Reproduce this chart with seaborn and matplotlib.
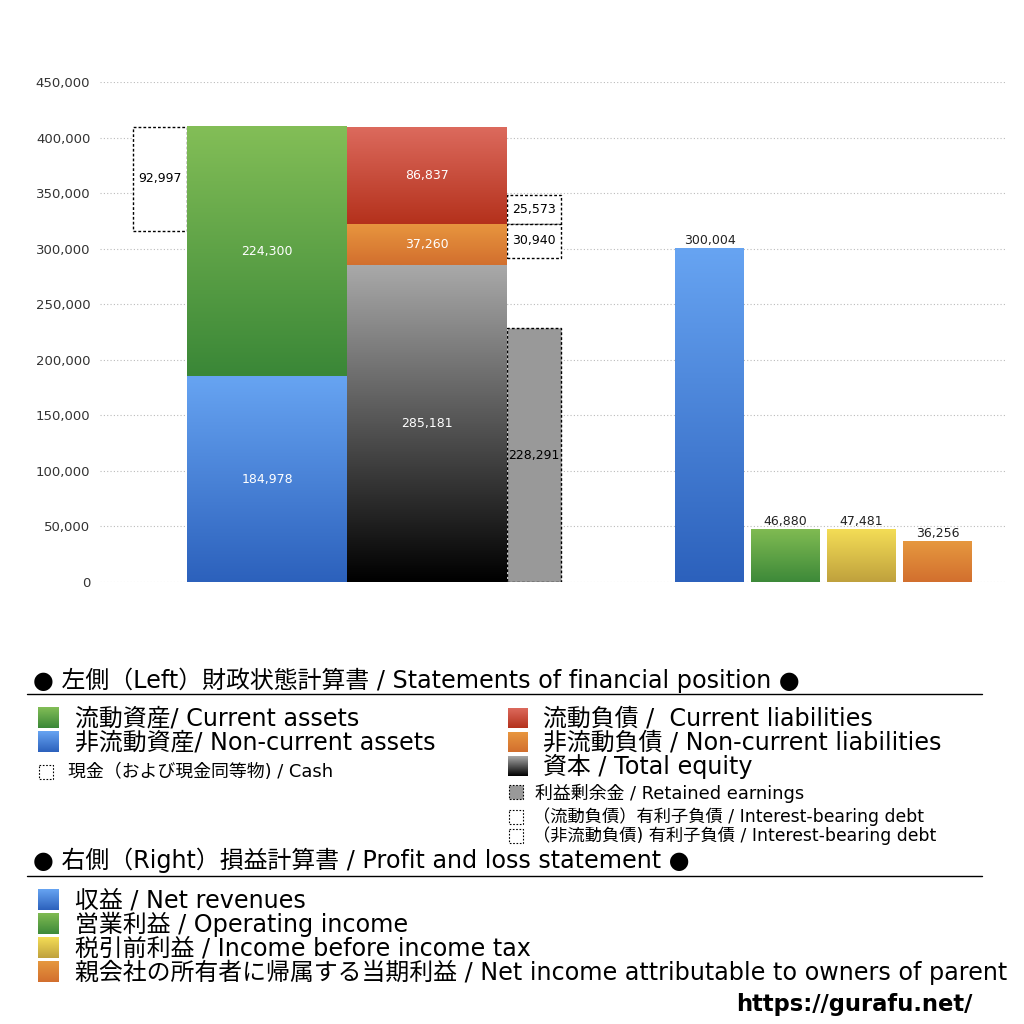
import numpy as np
import seaborn as sns
import matplotlib
matplotlib.use("Agg")
import matplotlib.pyplot as plt
from matplotlib.colors import LinearSegmentedColormap
from matplotlib.patches import Rectangle

# 左側: 財政状態計算書
cash = 92997
asset_names = ["非流動資産", "流動資産"]
asset_values = [184978, 224300]
liab_names = ["資本", "非流動負債", "流動負債"]
liab_values = [285181, 37260, 86837]
debt_values = [30940, 25573]   # 非流動負債 / 流動負債 の有利子負債
retained = 228291

# 右側: 損益計算書
pl_names = ["収益", "営業利益", "税引前利益", "当期利益"]
pl_values = [300004, 46880, 47481, 36256]

yticks = list(range(0, 450001, 50000))

# legend texts
head_left = "● 左側（Left）財政状態計算書 / Statements of financial position ●"
head_right = "● 右側（Right）損益計算書 / Profit and loss statement ●"
leg_assets = ["流動資産/ Current assets", "非流動資産/ Non-current assets"]
leg_cash = "現金（および現金同等物) / Cash"
leg_liab = ["流動負債 /  Current liabilities", "非流動負債 / Non-current liabilities", "資本 / Total equity"]
leg_retained = "利益剰余金 / Retained earnings"
leg_debt = ["（流動負債）有利子負債 / Interest-bearing debt", "（非流動負債) 有利子負債 / Interest-bearing debt"]
leg_pl = ["収益 / Net revenues", "営業利益 / Operating income", "税引前利益 / Income before income tax",
          "親会社の所有者に帰属する当期利益 / Net income attributable to owners of parent"]

grad = {
    "流動資産": ("#83be57", "#3a8737"),
    "非流動資産": ("#67a4f2", "#2c61bc"),
    "流動負債": ("#dc6a5d", "#b4311c"),
    "非流動負債": ("#e8963f", "#d26f2e"),
    "資本": ("#a9a9a9", "#000000"),
    "収益": ("#67a4f2", "#2c61bc"),
    "営業利益": ("#80bb52", "#3d8939"),
    "税引前利益": ("#f4dd56", "#bfa13d"),
    "当期利益": ("#e6983f", "#d26f2e"),
}

sns.set_style("white")
plt.rcParams["font.family"] = ["DejaVu Sans", "Noto Sans CJK JP"]

fig = plt.figure(figsize=(10.24, 10.24), dpi=100)
ax = fig.add_axes([100 / 1024, 442 / 1024, 905 / 1024, 500 / 1024])

ramp = np.linspace(0, 1, 256).reshape(-1, 1)


def paint(a, x0, x1, y0, y1, top, bottom, z=3):
    cmap = LinearSegmentedColormap.from_list("g", [bottom, top])
    a.imshow(ramp, extent=[x0, x1, y0, y1], origin="lower", aspect="auto",
             cmap=cmap, zorder=z, interpolation="bilinear")


def bar(x, v, bottom, width, **kw):
    n = len(ax.patches)
    sns.barplot(x=[x], y=[v], native_scale=True, orient="x", width=width,
                bottom=bottom, errorbar=None, ax=ax, **kw)
    return ax.patches[n]


def fill_grad(p, name):
    paint(ax, p.get_x(), p.get_x() + p.get_width(), p.get_y(),
          p.get_y() + p.get_height(), *grad[name])


def label(p, v, color):
    ax.text(p.get_x() + p.get_width() / 2, p.get_y() + p.get_height() / 2,
            f"{v:,}", ha="center", va="center", color=color, fontsize=9, zorder=6)


W_BIG, W_SMALL, W_PL = 160, 54, 69
X_CASH, X_ASSET, X_LIAB, X_SIDE = 160, 267, 427, 534
dotted = dict(color="white", edgecolor="black", linewidth=1, linestyle=(0, (2, 1.5)))

# assets
for name, v, b in zip(asset_names, asset_values, np.cumsum([0] + asset_values[:-1])):
    p = bar(X_ASSET, v, b, W_BIG, color=grad[name][0], linewidth=0)
    fill_grad(p, name)
    label(p, v, "white")

# liabilities + equity
for name, v, b in zip(liab_names, liab_values, np.cumsum([0] + liab_values[:-1])):
    p = bar(X_LIAB, v, b, W_BIG, color=grad[name][0], linewidth=0)
    fill_grad(p, name)
    label(p, v, "white")

# cash
p = bar(X_CASH, cash, sum(asset_values) - cash, W_SMALL, **dotted)
label(p, cash, "black")

# interest-bearing debt around the 流動負債 boundary
boundary = liab_values[0] + liab_values[1]
p = bar(X_SIDE, debt_values[1], boundary, W_SMALL, **dotted)
label(p, debt_values[1], "black")
p = bar(X_SIDE, debt_values[0], boundary - debt_values[0], W_SMALL, **dotted)
label(p, debt_values[0], "black")

# retained earnings
p = bar(X_SIDE, retained, 0, W_SMALL, color="#999999", edgecolor="black",
        linewidth=1, linestyle=(0, (2, 1.5)))
label(p, retained, "black")

# P&L
pl_x = [709.5 + 76 * i for i in range(len(pl_values))]
for name, x, v in zip(pl_names, pl_x, pl_values):
    p = bar(x, v, 0, W_PL, color=grad[name][0], linewidth=0)
    fill_grad(p, name)
    ax.text(x, v + 1500, f"{v:,}", ha="center", va="bottom", fontsize=9, color="#222222")

ax.set_xlim(100, 1005)
ax.set_ylim(0, 450000)
ax.set_yticks(yticks)
ax.set_yticklabels([f"{t:,}" for t in yticks], fontsize=9.5, color="#333333")
ax.set_xticks([])
ax.tick_params(axis="y", length=0, pad=7)
ax.grid(axis="y", linestyle=(0, (1, 2)), color="#bbbbbb", linewidth=0.8)
ax.set_axisbelow(True)
ax.set_xlabel("")
ax.set_ylabel("")
sns.despine(ax=ax, left=True, bottom=True)

# legend drawn on an overlay in pixel coordinates
lg = fig.add_axes([0, 0, 1, 1], zorder=5)
BIG, SMALL = 17.2, 12.9


def marker(x, y, size, name=None, face=None, dots=False):
    if name is not None:
        paint(lg, x, x + size, y + size / 2, y - size / 2, *grad[name])
    else:
        lg.add_patch(Rectangle((x, y - size / 2), size, size, facecolor=face,
                               edgecolor="black" if dots else "none",
                               linewidth=0.8, linestyle=(0, (1.5, 1.5))))


def say(x, y, text, size):
    lg.text(x, y, text, fontsize=size, va="center", color="black")


say(33, 680, head_left, BIG)
lg.plot([27, 982], [694, 694], color="black", linewidth=1)
for name, text, y in zip(["流動資産", "非流動資産"], leg_assets, [718, 742]):
    marker(38, y, 21, name)
    say(75, y, text, BIG)
marker(39, 772, 14, face="white", dots=True)
say(68, 772, leg_cash, SMALL)

for name, text, y in zip(["流動負債", "非流動負債", "資本"], leg_liab, [718, 742, 766]):
    marker(508, y, 20, name)
    say(543, y, text, BIG)
marker(509, 792, 14, face="#999999", dots=True)
say(535, 793, leg_retained, SMALL)
for text, y in zip(leg_debt, [817, 836]):
    marker(509, y, 14, face="white", dots=True)
    say(533, y, text, 12.4)

say(33, 860, head_right, BIG)
lg.plot([27, 982], [876, 876], color="black", linewidth=1)
for name, text, y in zip(pl_names, leg_pl, [900, 924, 948, 972]):
    marker(38, y, 21, name)
    say(75, y, text, BIG)

lg.text(972, 1004, "https://gurafu.net/", fontsize=16.3, fontweight="bold",
        ha="right", va="center", color="black")

lg.set_xlim(0, 1024)
lg.set_ylim(1024, 0)
lg.axis("off")

fig.savefig("out.png", dpi=100)
